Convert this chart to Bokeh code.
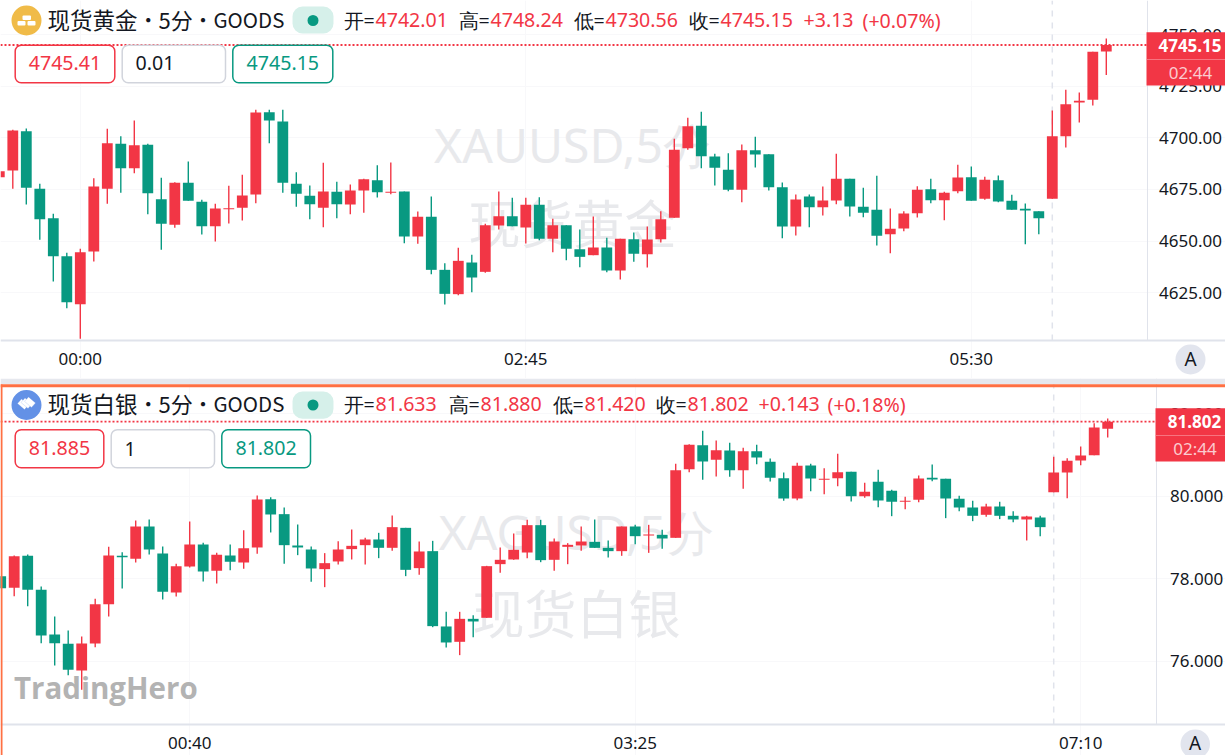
from bokeh.plotting import figure
from bokeh.layouts import column
from bokeh.models import Label, BoxAnnotation, Span, FixedTicker, PolyAnnotation, NumeralTickFormatter
from bokeh.embed import file_html
from bokeh.resources import INLINE
import numpy as np

gold_open = [4680.99,4684.22,4703.31,4675.32,4661.08,4642.64,4619.34,4644.90,4675.32,4697.17,4685.35,4696.68,4670.31,4657.85,4678.24,4669.01,4657.20,4665.45,4666.10,4672.57,4712.54,4708.01,4677.75,4671.93,4666.10,4673.87,4667.72,4674.51,4679.53,4673.38,4674.02,4652.18,4661.73,4636.00,4624.19,4639.56,4635.03,4657.52,4662.05,4656.55,4667.55,4651.05,4657.68,4646.03,4643.12,4646.84,4635.68,4650.89,4643.61,4650.89,4661.24,4695.06,4705.90,4691.01,4684.54,4674.83,4694.09,4692.15,4676.13,4657.04,4671.60,4666.42,4669.66,4680.18,4666.59,4665.13,4653.32,4656.07,4663.51,4675.16,4669.82,4674.19,4680.99,4670.47,4679.53,4669.50,4665.61,4664.48,4670.47,4700.89,4717.23,4718.52,4742.01]
gold_high = [4684.50,4703.96,4704.61,4677.75,4663.19,4644.26,4646.20,4680.50,4704.45,4700.89,4708.49,4697.17,4680.66,4678.56,4688.59,4669.98,4668.04,4676.78,4682.12,4713.67,4713.67,4713.67,4683.41,4676.94,4687.94,4678.72,4677.43,4680.18,4686.81,4688.11,4674.02,4664.32,4671.60,4639.24,4646.68,4643.28,4658.33,4674.02,4670.95,4670.95,4671.27,4660.76,4657.68,4655.58,4661.89,4651.54,4651.05,4654.12,4657.04,4664.48,4699.59,4709.78,4712.69,4692.31,4692.63,4696.84,4700.56,4692.15,4678.39,4672.57,4672.57,4676.46,4692.31,4680.18,4675.81,4681.63,4665.78,4664.48,4676.62,4680.18,4673.87,4686.97,4686.16,4681.15,4681.79,4672.41,4668.20,4664.48,4713.35,4723.38,4722.08,4741.82,4748.24]
gold_low = [4680.00,4675.32,4667.72,4650.57,4630.34,4617.39,4602.51,4640.05,4668.04,4673.38,4682.93,4663.03,4645.71,4656.39,4669.50,4653.16,4649.76,4658.50,4659.95,4668.37,4697.49,4673.38,4666.59,4660.60,4656.72,4661.08,4663.03,4663.67,4671.12,4672.73,4648.95,4648.62,4633.90,4619.17,4623.70,4625.16,4634.54,4655.58,4657.20,4648.78,4650.40,4644.58,4640.69,4637.30,4643.12,4634.87,4631.31,4639.88,4637.14,4649.27,4661.24,4694.25,4685.35,4676.94,4674.19,4668.85,4685.67,4674.51,4651.37,4652.67,4656.72,4662.38,4667.88,4661.89,4661.57,4647.81,4644.10,4654.77,4661.41,4668.37,4660.11,4673.22,4669.50,4669.98,4668.85,4665.13,4648.46,4653.32,4670.47,4695.39,4707.52,4715.77,4730.56]
gold_close = [4683.90,4703.64,4675.81,4660.60,4642.64,4620.31,4644.58,4676.46,4697.49,4685.35,4696.52,4673.22,4658.33,4678.24,4669.50,4657.20,4665.78,4665.94,4672.09,4712.38,4708.49,4678.24,4672.90,4667.88,4674.03,4667.88,4674.51,4680.02,4673.70,4673.87,4652.18,4661.73,4636.00,4624.35,4640.37,4632.28,4657.68,4662.05,4657.20,4667.55,4651.05,4657.68,4646.20,4642.31,4646.84,4635.68,4651.05,4643.77,4650.73,4660.60,4694.25,4705.74,4691.18,4685.51,4674.83,4694.09,4691.98,4676.13,4657.04,4670.14,4666.42,4669.66,4680.18,4666.75,4663.67,4652.51,4655.91,4663.35,4674.84,4669.82,4673.38,4680.82,4669.50,4679.69,4669.17,4665.13,4664.81,4661.08,4700.89,4716.42,4718.04,4741.82,4745.15]

silver_open = [78.057,77.774,78.550,77.726,76.643,76.417,75.770,76.425,77.378,78.550,78.477,79.261,78.606,77.661,78.291,78.825,78.186,78.558,78.388,78.752,79.924,79.560,78.800,78.703,78.227,78.413,78.712,78.808,78.946,78.744,79.228,78.251,78.663,76.837,76.465,77.022,77.047,78.348,78.461,78.630,79.293,78.453,78.768,78.800,78.889,78.743,78.663,79.261,79.042,79.059,78.986,80.650,81.232,80.877,81.103,80.626,81.087,80.828,80.432,79.939,80.740,80.392,80.433,80.586,79.996,80.344,80.126,79.859,79.907,80.441,80.416,79.932,79.722,79.544,79.746,79.520,79.431,79.479,80.093,80.570,80.861,80.990,81.633]
silver_high = [78.057,78.558,78.582,77.807,77.079,76.740,76.595,77.508,78.768,78.639,79.406,79.431,78.776,78.356,79.382,78.865,78.623,78.825,79.172,80.012,79.972,79.722,79.309,78.776,78.615,78.905,79.188,78.986,79.107,79.528,79.228,78.897,78.913,77.192,77.192,77.111,78.307,78.752,79.091,79.422,79.422,78.970,78.857,79.261,79.430,78.921,79.261,79.301,79.301,79.180,80.780,81.256,81.580,81.345,81.289,81.167,81.240,80.909,80.570,80.804,80.780,80.675,81.022,80.586,80.319,80.635,80.150,79.980,80.497,80.764,80.416,80.004,79.883,79.810,79.859,79.633,79.520,79.520,80.950,80.917,81.200,81.766,81.880]
silver_low = [77.766,77.572,77.330,76.433,75.892,75.657,75.302,76.336,77.079,77.758,78.388,78.582,77.491,77.564,78.267,77.928,77.879,78.202,78.235,78.598,79.116,78.356,78.566,77.920,77.790,78.340,78.461,78.340,78.493,78.671,78.057,78.089,76.820,76.327,76.142,76.578,77.047,78.137,78.453,78.493,78.396,78.186,78.347,78.671,78.743,78.509,78.550,78.832,78.622,78.719,78.986,80.578,80.392,80.473,80.464,80.174,80.772,80.351,79.883,79.899,80.117,80.045,80.239,79.867,79.956,79.730,79.511,79.681,79.851,80.360,79.463,79.633,79.390,79.495,79.439,79.366,78.922,79.027,80.093,79.948,80.748,80.990,81.420]
silver_close = [77.766,78.542,77.726,76.619,76.433,75.787,76.425,77.378,78.558,78.518,79.261,78.703,77.677,78.300,78.825,78.170,78.574,78.404,78.736,79.915,79.552,78.808,78.752,78.243,78.372,78.703,78.792,78.946,78.744,79.245,78.210,78.655,76.845,76.449,77.022,76.958,78.299,78.453,78.695,79.293,78.445,78.897,78.816,78.897,78.743,78.663,79.261,79.026,79.067,78.970,80.626,81.240,80.836,81.111,80.626,81.087,80.933,80.440,79.939,80.731,80.424,80.416,80.578,79.996,80.101,79.891,79.859,79.883,80.424,80.400,79.940,79.722,79.520,79.746,79.520,79.431,79.503,79.245,80.570,80.853,80.982,81.661,81.802]

gold_price_ticks = [4625, 4650, 4675, 4700, 4725, 4750]
silver_price_ticks = [76, 78, 80, 82]
gold_time_ticks = {5: "00:00", 38: "02:45", 71: "05:30"}
silver_time_ticks = {13: "00:40", 46: "03:25", 79: "07:10"}
session_break = 77

UP = "#f23645"; DOWN = "#089981"; INK = "#131722"; LINE = "#e0e3eb"; ORANGE = "#ff7043"; WM = "#e8e9ec"
LATIN = "Noto Sans"; CJK = "Noto Sans CJK SC"


def make_pane(o, h, l, c, price_ticks, time_ticks, fmt, fh, X, Y, y0, axis_x, axis_y, standoff_x, standoff_y):
    o, h, l, c = map(np.array, (o, h, l, c))
    x = np.arange(-1, len(o) - 1)
    p = figure(width=1225, height=fh, x_range=(X(0), X(1225)), y_range=(Y(y0 + fh), Y(y0)), y_axis_location="right",
               output_backend="svg", toolbar_location=None, tools="",
               min_border_left=0, min_border_right=0, min_border_top=0, min_border_bottom=0,
               background_fill_color="white", border_fill_color="white")
    p.outline_line_color = None
    p.segment([session_break], [Y(axis_y)], [session_break], [Y(y0)], line_color=LINE, line_width=1.5, line_dash="6 6")
    up = c >= o
    for mask, col in ((up, UP), (~up, DOWN)):
        p.segment(x[mask], h[mask], x[mask], l[mask], line_color=col, line_width=1.4)
        p.vbar(x[mask], 0.8, np.maximum(o, c)[mask], np.minimum(o, c)[mask], fill_color=col, line_color=None)
    p.yaxis.ticker = FixedTicker(ticks=price_ticks)
    p.yaxis.formatter = NumeralTickFormatter(format=fmt)
    p.xaxis.ticker = FixedTicker(ticks=list(time_ticks))
    p.xaxis.major_label_overrides = time_ticks
    p.xaxis.fixed_location = Y(axis_y)
    p.yaxis.fixed_location = X(axis_x)
    p.yaxis.bounds = (Y(axis_y), Y(y0))
    for ax, so in ((p.xaxis, standoff_x), (p.yaxis, standoff_y)):
        ax.major_tick_line_color = None
        ax.minor_tick_line_color = None
        ax.axis_line_color = LINE
        ax.major_label_text_font = LATIN
        ax.major_label_text_font_size = "17px"
        ax.major_label_text_color = INK
        ax.major_label_standoff = so
    p.xaxis.axis_line_width = 2
    p.xgrid.grid_line_color = "#f8f8fa"
    p.ygrid.grid_line_color = "#f8f8fa"
    return p


def overlays(p, X, Y):
    def box(x0, y0, x1, y1, fill, line=None, lw=1.5, r=0):
        p.add_layout(BoxAnnotation(left=X(x0), right=X(x1), top=Y(y0), bottom=Y(y1), fill_color=fill, fill_alpha=1,
                                   line_color=line, line_width=lw, line_alpha=1, border_radius=r, level="annotation",
                                   editable=False))

    def text(x, y, s, size, color=INK, align="left", font=LATIN, style="normal", level="annotation", alpha=1.0):
        p.add_layout(Label(x=X(x), y=Y(y), text=s, text_font=font, text_font_size=f"{size}px", text_color=color,
                           text_align=align, text_baseline="middle", text_font_style=style, level=level,
                           text_alpha=alpha))
    return box, text


# ---------------- top pane
GX = lambda px: -0.9111 + px / 13.5
GY = lambda py: 4766.74 - 0.4854 * py
g = make_pane(gold_open, gold_high, gold_low, gold_close, gold_price_ticks, gold_time_ticks, "0.00", 378, GX, GY, 0,
              1146.5, 340, 0, 6)
box, text = overlays(g, GX, GY)
text(572, 144, "XAUUSD,5分", 48, WM, "center", level="underlay")
text(572, 221, "现货黄金", 52, WM, "center", font=CJK, level="underlay")
g.add_layout(Span(location=gold_close[-1], dimension="width", line_color=UP, line_width=1.8, line_dash="2 2"))
box(11, 5, 41, 35, "#f0bb48", r=15)
box(22, 15, 30.5, 19.5, "white", r=1)
box(17, 20.5, 25, 25, "white", r=1)
box(27, 20.5, 35, 25, "white", r=1)
for x, t, sz, al in ((47, "现货黄金", 22.5, "left"), (147.7, "•", 20, "center"), (158, "5分", 22, "left"),
                     (202.5, "•", 20, "center"), (213, "GOODS", 20.5, "left")):
    text(x, 18.5, t, sz, INK, al, font=CJK)
box(292, 6, 333, 33, "#d6f0ea", r=10)
box(307, 14.5, 318, 25.5, DOWN, r=6)
for x, t, col in ((343, "开=", INK), (375, "4742.01", UP), (458, "高=", INK), (490, "4748.24", UP), (573, "低=", INK),
                  (605, "4730.56", UP), (688, "收=", INK), (720, "4745.15", UP), (803, "+3.13", UP), (862, "(+0.07%)", UP)):
    text(x, 19.5, t, 19.6, col)
box(14.7, 44.7, 114.3, 82.3, "white", UP, r=6)
box(121.7, 44.7, 225, 82.3, "white", "#d1d4dc", r=6)
box(232.3, 44.7, 332.3, 82.3, "white", DOWN, r=6)
text(64.5, 62.5, "4745.41", 19.6, UP, "center")
text(135, 62.5, "0.01", 19.6, INK)
text(282.3, 62.5, "4745.15", 19.6, DOWN, "center")
box(1146, 31.7, 1225, 85, UP)
box(1146, 58.5, 1225, 59.2, "#f88a94")
text(1189.5, 44.5, "4745.15", 17, "white", "center", style="bold")
text(1190, 71.8, "02:44", 17, "#ffffff", "center", alpha=0.75)
box(1175, 344, 1205, 374, "#e2e5ee", r=15)
text(1190, 358, "A", 19, INK, "center")

# ---------------- bottom pane
SX = lambda px: -1.0148 + px / 13.5
SY = lambda py: 80 + (495.5 - py) / 41.25
s = make_pane(silver_open, silver_high, silver_low, silver_close, silver_price_ticks, silver_time_ticks, "0.000", 377,
              SX, SY, 378, 1155.5, 724, 0, 8)
box, text = overlays(s, SX, SY)
text(576, 531, "XAGUSD,5分", 48, WM, "center", level="underlay")
text(576, 611, "现货白银", 52, WM, "center", font=CJK, level="underlay")
s.add_layout(Span(location=silver_close[-1], dimension="width", line_color=UP, line_width=1.8, line_dash="2 2"))
box(0, 378, 1225, 383.7, "#e6e8ee")
box(0, 383.7, 1225, 386.7, ORANGE)
box(0, 384, 2, 755, ORANGE)
box(11, 389.5, 41, 419.5, "#6391e6", r=15)
for dx in (0, 3.5, 7):
    s.add_layout(PolyAnnotation(xs=[SX(17 + dx), SX(21 + dx), SX(28 + dx), SX(24 + dx)],
                                ys=[SY(403 - dx * 0.3), SY(398.5 - dx * 0.3), SY(404.5 - dx * 0.3), SY(409 - dx * 0.3)],
                                fill_color="white", fill_alpha=1, line_color="#6391e6", line_width=0.7, level="annotation"))
for x, t, sz, al in ((47, "现货白银", 22.5, "left"), (147.7, "•", 20, "center"), (158, "5分", 22, "left"),
                     (202.5, "•", 20, "center"), (213, "GOODS", 20.5, "left")):
    text(x, 402.5, t, sz, INK, al, font=CJK)
box(292, 391, 333, 418.3, "#d6f0ea", r=10)
box(307, 399, 318, 410, DOWN, r=6)
for x, t, col in ((343, "开=", INK), (375, "81.633", UP), (448, "高=", INK), (480, "81.880", UP), (552, "低=", INK),
                  (584, "81.420", UP), (655, "收=", INK), (687, "81.802", UP), (758, "+0.143", UP), (827, "(+0.18%)", UP)):
    text(x, 403.5, t, 19.6, col)
box(14.7, 429.3, 103.3, 467.3, "white", UP, r=6)
box(110.7, 429.3, 214, 467.3, "white", "#d1d4dc", r=6)
box(221.3, 429.3, 310, 467.3, "white", DOWN, r=6)
text(59, 447.5, "81.885", 19.6, UP, "center")
text(124, 448.5, "1", 19.6, INK)
text(265.6, 447.5, "81.802", 19.6, DOWN, "center")
box(1155, 407.7, 1225, 461, UP)
box(1155, 434.6, 1225, 435.3, "#f88a94")
text(1194, 421, "81.802", 17, "white", "center", style="bold")
text(1194.5, 447.8, "02:44", 17, "#ffffff", "center", alpha=0.75)
box(1180, 729, 1209.5, 758, "#e2e5ee", r=15)
text(1194.6, 742.5, "A", 19, INK, "center")
text(13.5, 687, "TradingHero", 29.5, "#b3b3b3", font="Open Sans", style="bold")

page = column(g, s, spacing=0)
html = file_html(page, INLINE).replace("</head>", "<style>html,body{margin:0;padding:0;overflow:hidden}</style></head>")
open("out.html", "w").write(html)
